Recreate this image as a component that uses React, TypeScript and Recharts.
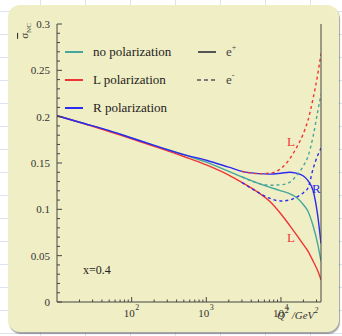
import { LineChart, Line, XAxis, YAxis } from "recharts";

// Q^2 sample points (GeV^2)
const q2 = [10, 20, 50, 100, 200, 500, 1000, 2000, 3000, 5000, 7000, 10000, 13000, 16000, 20000, 23000, 27000, 31000, 34400];

// e+ (solid)
const noPolPos = [0.201, 0.194, 0.185, 0.177, 0.169, 0.159, 0.151, 0.141, 0.135, 0.128, 0.124, 0.12, 0.117, 0.113, 0.105, 0.098, 0.082, 0.063, 0.044];
const lPos = [0.201, 0.194, 0.184, 0.176, 0.168, 0.157, 0.148, 0.137, 0.129, 0.118, 0.109, 0.095, 0.083, 0.073, 0.062, 0.055, 0.044, 0.034, 0.024];
const rPos = [0.201, 0.194, 0.185, 0.177, 0.169, 0.159, 0.153, 0.1455, 0.141, 0.1385, 0.138, 0.139, 0.14, 0.139, 0.136, 0.131, 0.12, 0.094, 0.063];

// e- (dashed)
const noPolNeg = [null, null, null, null, null, null, null, null, 0.135, 0.128, 0.126, 0.1265, 0.129, 0.136, 0.147, 0.157, 0.179, 0.205, 0.224];
const lNeg = [null, null, null, null, null, null, null, null, 0.141, 0.1385, 0.139, 0.144, 0.154, 0.166, 0.182, 0.196, 0.22, 0.245, 0.268];
const rNeg = [null, null, null, null, null, null, null, null, 0.129, 0.118, 0.112, 0.109, 0.11, 0.113, 0.118, 0.123, 0.144, 0.158, 0.166];

const xMajor = [100, 1000, 10000];
const xTicks = [20, 30, 40, 50, 60, 70, 80, 90, 100, 200, 300, 400, 500, 600, 700, 800, 900, 1000, 2000, 3000, 4000, 5000, 6000, 7000, 8000, 9000, 10000, 20000, 30000];
const yTicks = Array.from({ length: 31 }, (_, i) => i / 100);
const yLabels: Record<number, string> = { 0: "0", 5: "0.05", 10: "0.1", 15: "0.15", 20: "0.2", 25: "0.25", 30: "0.3" };

const TEAL = "#45a69c";
const RED = "#ef3434";
const BLUE = "#2b2bf3";
const FONT = "'Liberation Serif', 'DejaVu Serif', serif";

const data = q2.map((q, i) => ({
  q2: q,
  noPolPos: noPolPos[i],
  lPos: lPos[i],
  rPos: rPos[i],
  noPolNeg: noPolNeg[i],
  lNeg: lNeg[i],
  rNeg: rNeg[i],
}));

function XTick({ x, y, payload }: any) {
  const v = payload.value;
  const major = xMajor.includes(v);
  return (
    <g>
      <line x1={x} y1={y} x2={x} y2={y - (major ? 5 : 2.5)} stroke="#444" />
      {major && (
        <text fontFamily={FONT} fill="#333">
          <tspan x={x + 3} y={y + 15} fontSize={11} textAnchor="end">10</tspan>
          <tspan x={x + 3.5} y={y + 8} fontSize={8}>{Math.round(Math.log10(v))}</tspan>
        </text>
      )}
    </g>
  );
}

function YTick({ x, y, payload }: any) {
  const i = Math.round(payload.value * 100);
  const major = i % 5 === 0;
  return (
    <g>
      <line x1={x} y1={y} x2={x + (major ? 5 : 3)} y2={y} stroke="#444" />
      {major && (
        <text x={x - 7} y={y + 4} fontSize={11} textAnchor="end" fontFamily={FONT} fill="#333">
          {yLabels[i]}
        </text>
      )}
    </g>
  );
}

export default function App() {
  return (
    <div
      style={{
        position: "absolute",
        left: 0,
        top: 0,
        width: 342,
        height: 336,
        backgroundColor: "#fff",
        backgroundImage:
          "linear-gradient(to right, #dbe2f0 1px, transparent 1px), linear-gradient(to bottom, #dbe2f0 1px, transparent 1px)",
        backgroundSize: "45px 23px",
        backgroundPosition: "40px 11px",
        overflow: "hidden",
      }}
    >
      <div
        style={{
          position: "absolute",
          left: 8,
          top: 5,
          width: 331,
          height: 327,
          borderRadius: 12,
          background: "#f0eec4",
          boxShadow: "1px 2px 1px rgba(0,0,0,0.35)",
        }}
      />
      <div style={{ position: "absolute", left: 0, top: 0 }}>
        <LineChart width={342} height={336} data={data} margin={{ top: 24, right: 0, bottom: 0, left: 0 }}>
          <XAxis
            dataKey="q2"
            type="number"
            scale="log"
            domain={[10, 34400]}
            allowDataOverflow
            ticks={xTicks}
            interval={0}
            tick={<XTick />}
            tickLine={false}
            tickSize={0}
            tickMargin={0}
            height={34}
            axisLine={{ stroke: "#444" }}
          />
          <YAxis
            yAxisId="l"
            type="number"
            domain={[0, 0.3]}
            ticks={yTicks}
            interval={0}
            tick={<YTick />}
            tickLine={false}
            tickSize={0}
            tickMargin={0}
            width={57}
            axisLine={{ stroke: "#444" }}
          />
          <YAxis
            yAxisId="r"
            orientation="right"
            type="number"
            domain={[0, 0.3]}
            tick={false}
            tickLine={false}
            width={21}
            axisLine={{ stroke: "#444" }}
          />
          <Line yAxisId="l" type="monotone" dataKey="noPolPos" stroke={TEAL} strokeWidth={1.4} dot={false} isAnimationActive={false} />
          <Line yAxisId="l" type="monotone" dataKey="lPos" stroke={RED} strokeWidth={1.4} dot={false} isAnimationActive={false} />
          <Line yAxisId="l" type="monotone" dataKey="rPos" stroke={BLUE} strokeWidth={1.4} dot={false} isAnimationActive={false} />
          <Line yAxisId="l" type="monotone" dataKey="noPolNeg" stroke={TEAL} strokeWidth={1.4} strokeDasharray="3 3" dot={false} isAnimationActive={false} />
          <Line yAxisId="l" type="monotone" dataKey="lNeg" stroke={RED} strokeWidth={1.4} strokeDasharray="3 3" dot={false} isAnimationActive={false} />
          <Line yAxisId="l" type="monotone" dataKey="rNeg" stroke={BLUE} strokeWidth={1.4} strokeDasharray="3 3" dot={false} isAnimationActive={false} />
        </LineChart>
      </div>
      <svg width={342} height={336} style={{ position: "absolute", left: 0, top: 0, pointerEvents: "none" }} fontFamily={FONT}>
        {/* y axis title */}
        <text transform="rotate(-90 28 31)" x={28} y={31} textAnchor="middle" fontSize={11} fill="#333">
          <tspan textDecoration="overline">σ</tspan>
          <tspan fontSize={7} dy={3}>NC</tspan>
        </text>
        {/* legend */}
        <line x1={65} y1={52} x2={83} y2={52} stroke={TEAL} strokeWidth={2} />
        <text x={93} y={56} fontSize={13} fill="#222">no polarization</text>
        <line x1={65} y1={80} x2={83} y2={80} stroke={RED} strokeWidth={2} />
        <text x={93} y={84} fontSize={13} fill="#222">L polarization</text>
        <line x1={65} y1={108} x2={83} y2={108} stroke={BLUE} strokeWidth={2} />
        <text x={93} y={112} fontSize={13} fill="#222">R polarization</text>
        <line x1={198} y1={52} x2={216} y2={52} stroke="#555" strokeWidth={2} />
        <text x={226} y={56} fontSize={13} fill="#444">
          e<tspan fontSize={8} dy={-6}>+</tspan>
        </text>
        <line x1={197} y1={80} x2={217} y2={80} stroke="#555" strokeWidth={1.6} strokeDasharray="4 3" />
        <text x={226} y={84} fontSize={13} fill="#444">
          e<tspan fontSize={8} dy={-6}>-</tspan>
        </text>
        {/* annotations */}
        <text x={83} y={274} fontSize={12} fill="#222">x=0.4</text>
        <text x={287} y={146} fontSize={13} fill={RED}>L</text>
        <text x={312} y={193} fontSize={13} fill={BLUE}>R</text>
        <text x={287} y={242} fontSize={13} fill={RED}>L</text>
        {/* x axis title */}
        <text x={277} y={319} fontSize={11} fontStyle="italic" fill="#333">
          Q<tspan fontSize={8} dy={-6}>2</tspan>
          <tspan dy={6}> /GeV</tspan>
          <tspan fontSize={8} dy={-6}>2</tspan>
        </text>
      </svg>
    </div>
  );
}
